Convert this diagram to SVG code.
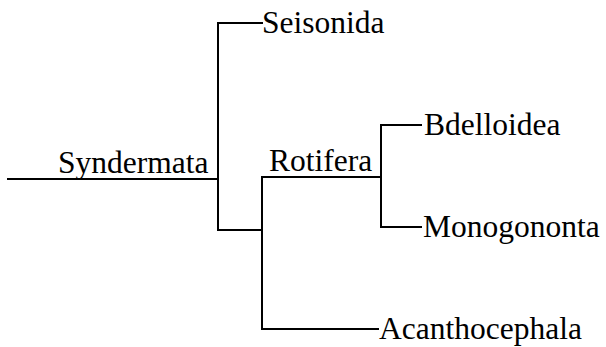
<svg xmlns="http://www.w3.org/2000/svg" width="606" height="347" viewBox="0 0 606 347">
  <style>
    .br { fill: none; stroke: #000; stroke-width: 2; stroke-linecap: square; }
    .lb { font-family: "Liberation Serif", "Times New Roman", serif; font-size: 31.5px; fill: #000; }
  </style>
  <rect width="606" height="347" fill="#fff"/>
  <g id="connectors">
    <path class="br" d="M8,179 H218"/>
    <path class="br" d="M262,23 H218 V230 H262"/>
    <path class="br" d="M380,177 H262 V329 H378"/>
    <path class="br" d="M421,125 H381 V227 H421"/>
  </g>
  <g id="syndermata"><text class="lb" x="58" y="173">Syndermata</text></g>
  <g id="seisonida"><text class="lb" x="262" y="33">Seisonida</text></g>
  <g id="rotifera"><text class="lb" x="269" y="171">Rotifera</text></g>
  <g id="bdelloidea"><text class="lb" x="424" y="135">Bdelloidea</text></g>
  <g id="monogononta"><text class="lb" x="423" y="237">Monogononta</text></g>
  <g id="acanthocephala"><text class="lb" x="379" y="339">Acanthocephala</text></g>
</svg>
